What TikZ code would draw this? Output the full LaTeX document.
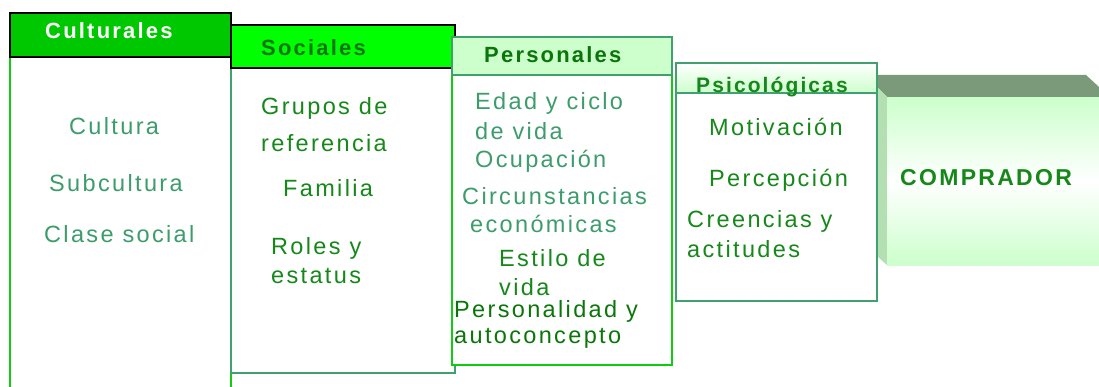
\documentclass[tikz,border=0pt]{standalone}
\usepackage{fontspec}
\setmainfont{Liberation Sans}[LetterSpace=10]
\definecolor{hdrdark}{HTML}{00C800}
\definecolor{hdrbright}{HTML}{00FF00}
\definecolor{lightg}{HTML}{CCFFCC}
\definecolor{grayline}{HTML}{40A070}
\definecolor{brightline}{HTML}{10CC10}
\definecolor{txtgray}{HTML}{3C9C6C}
\definecolor{txtgreen}{HTML}{16881A}
\definecolor{txtdark}{HTML}{0A760A}
\definecolor{topface}{HTML}{7A9A7A}
\definecolor{sideface}{HTML}{B3DFB3}
\begin{document}
\begin{tikzpicture}[x=1pt,y=-1pt,
  box/.style={draw, line width=2pt, anchor=north west, inner sep=0pt, outer sep=0pt},
  txt/.style={anchor=west, inner sep=0pt, font=\fontsize{23.5}{23.5}\selectfont},
  hdr/.style={anchor=west, inner sep=0pt, font=\fontsize{22}{22}\selectfont\bfseries},
]
\useasboundingbox (0,0) rectangle (1099,387);
\clip (0,0) rectangle (1099,387);
% COMPRADOR 3D block
\fill[topface] (878,75) -- (1086,75) -- (1099,87) -- (1099,97) -- (887,97) -- (878,88) -- cycle;
\fill[sideface] (878,88) -- (887,97) -- (887,265) -- (878,257) -- cycle;
\node[anchor=north west, inner sep=0pt, minimum width=218pt, minimum height=168pt,
  shading=axis, top color=lightg, bottom color=lightg, middle color=white] (compF) at (887,97) {};
\node[hdr, font=\fontsize{23}{23}\selectfont\bfseries, text=txtgreen] (comp) at (900,178) {COMPRADOR};
% Culturales
\node[box, draw=brightline, fill=white, minimum width=221pt, minimum height=345pt] (cultB) at (10,57) {};
\node[box, draw=black, fill=hdrdark, minimum width=221pt, minimum height=44pt] (cultH) at (10,13) {};
\node[hdr, text=white] (cultT) at (45,31) {Culturales};
\node[txt, text=txtgray] (c1) at (69,126) {Cultura};
\node[txt, text=txtgray] (c2) at (49,183) {Subcultura};
\node[txt, text=txtgray] (c3) at (44,234) {Clase social};
% Sociales
\node[box, draw=grayline, fill=white, minimum width=224pt, minimum height=305pt] (socB) at (231,68) {};
\node[box, draw=black, fill=hdrbright, minimum width=224pt, minimum height=43pt] (socH) at (231,25) {};
\node[hdr, text=txtdark] (socT) at (261,48) {Sociales};
\node[txt, text=txtgreen] (s1a) at (261,108) {Grupos de};
\node[txt, text=txtgreen] (s1b) at (261,143) {referencia};
\node[txt, text=txtgreen] (s2) at (283,188) {Familia};
\node[txt, text=txtgreen] (s3a) at (271,248) {Roles y};
\node[txt, text=txtgreen] (s3b) at (271,276) {estatus};
% Personales
\node[box, draw=brightline, fill=white, minimum width=220pt, minimum height=290pt] (perB) at (452,75) {};
\node[box, draw=grayline, fill=lightg, minimum width=220pt, minimum height=38pt] (perH) at (452,37) {};
\node[hdr, text=txtdark] (perT) at (484,55) {Personales};
\node[txt, text=txtgray] (p1a) at (475,103) {Edad y ciclo};
\node[txt, text=txtgray] (p1b) at (475,131) {de vida};
\node[txt, text=txtgray] (p2) at (475,161) {Ocupación};
\node[txt, text=txtgray] (p3a) at (462,196) {Circunstancias};
\node[txt, text=txtgray] (p3b) at (470,224) {económicas};
\node[txt, text=txtgreen] (p4a) at (499,258) {Estilo de};
\node[txt, text=txtgreen] (p4b) at (499,287) {vida};
\node[txt, text=txtdark] (p5a) at (454,311) {Personalidad y};
\node[txt, text=txtdark] (p5b) at (454,338) {autoconcepto};
% Psicologicas
\node[box, draw=grayline, fill=white, minimum width=201pt, minimum height=208pt] (psiB) at (676,93) {};
\node[box, draw=grayline, shading=axis, top color=white, bottom color=lightg, minimum width=201pt, minimum height=30pt] (psiH) at (676,63) {};
\node[hdr, font=\fontsize{21}{21}\selectfont\bfseries, text=txtgreen] (psiT) at (696,87) {Psicológicas};
\node[txt, text=txtgreen] (q1) at (709,127) {Motivación};
\node[txt, text=txtgreen] (q2) at (709,180) {Percepción};
\node[txt, text=txtgreen] (q3a) at (687,221) {Creencias y};
\node[txt, text=txtgreen] (q3b) at (687,249) {actitudes};
\end{tikzpicture}
\end{document}
